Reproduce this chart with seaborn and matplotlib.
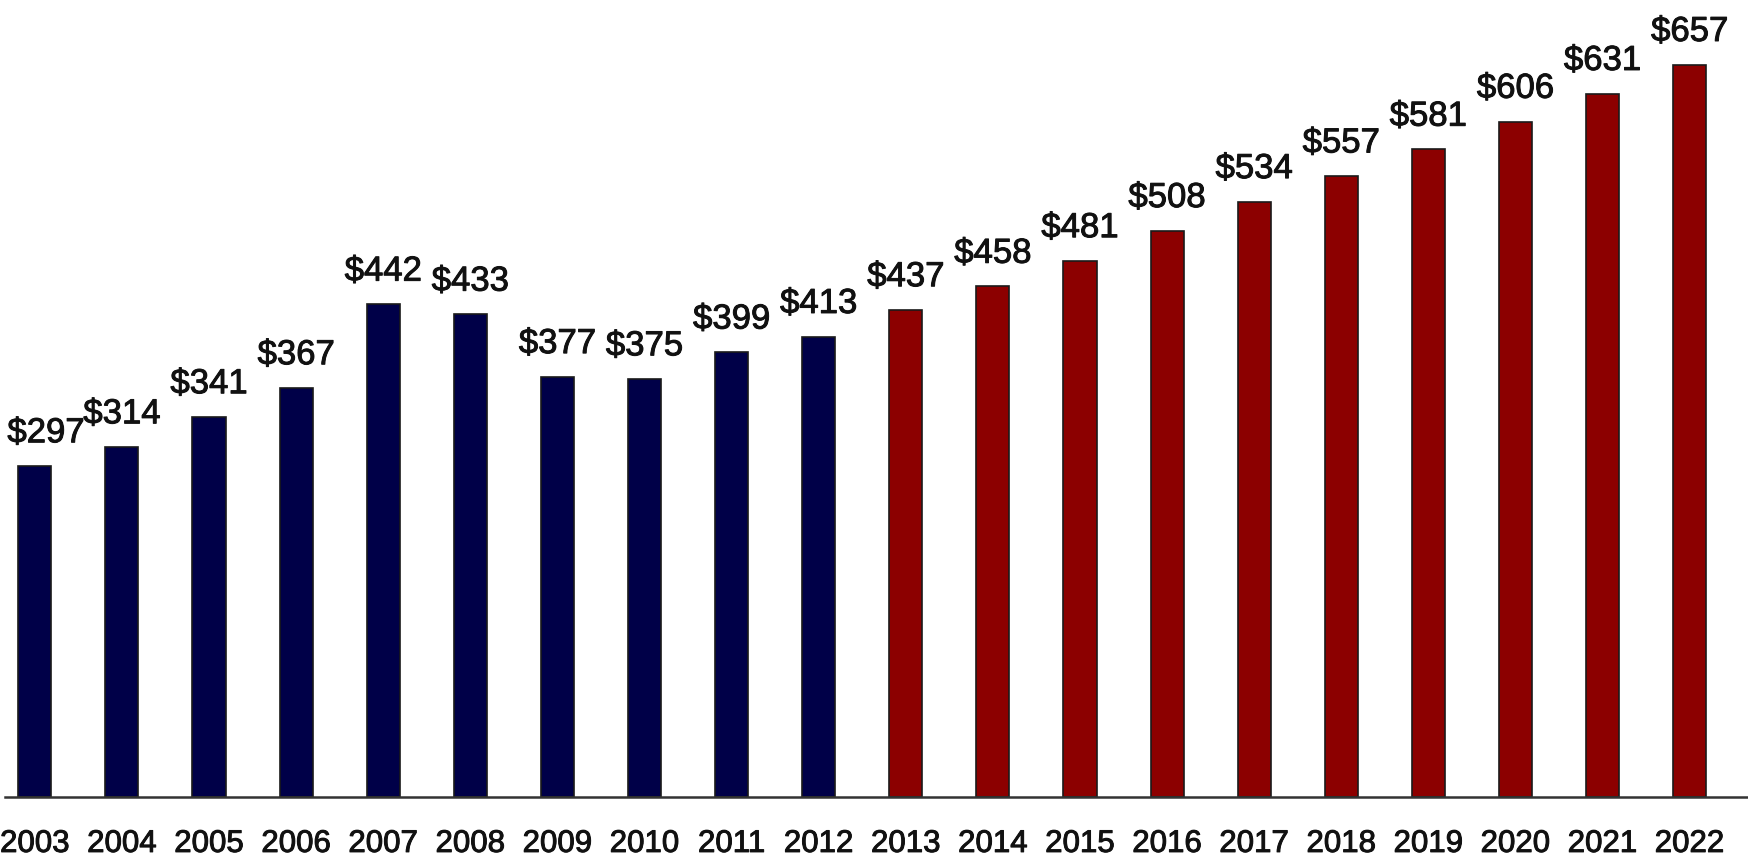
import matplotlib
matplotlib.use("Agg")
import matplotlib.pyplot as plt
import matplotlib.patheffects as pe
import seaborn as sns
import pandas as pd

years = [str(y) for y in range(2003, 2023)]
values = [297, 314, 341, 367, 442, 433, 377, 375, 399, 413,
          437, 458, 481, 508, 534, 557, 581, 606, 631, 657]
period = ["Actual"] * 10 + ["Projected"] * 10
palette = {"Actual": "#000048", "Projected": "#8c0000"}

df = pd.DataFrame({"year": years, "value": values, "period": period})

sns.set_theme(style="white")
plt.rcParams["font.family"] = ["Liberation Sans", "DejaVu Sans"]

fig = plt.figure(figsize=(17.48, 8.58), dpi=100)
ax = fig.add_axes([0.003, 61 / 858, 0.997, 797 / 858])

sns.barplot(data=df, x="year", y="value", hue="period", palette=palette,
            dodge=False, width=0.38, saturation=1, edgecolor="#1a1a1a",
            linewidth=1.2, legend=False, ax=ax)

ax.set_xlim(-0.34, 19.67)
ax.set_ylim(0, 715)

heavy = [pe.withStroke(linewidth=0.7, foreground="#111111")]

for i, v in enumerate(values):
    dx = 8 if i == 0 else 0
    ax.annotate(f"${v}", (i, v), xytext=(dx, 12), textcoords="offset points",
                ha="center", va="bottom", fontsize=25, color="#111111",
                path_effects=heavy)

ax.set_xlabel("")
ax.set_ylabel("")
ax.set_yticks([])
ax.tick_params(axis="x", length=0, pad=23, labelsize=22.5, labelcolor="#111111")
for lbl in ax.get_xticklabels():
    lbl.set_path_effects(heavy)
for s in ["top", "right", "left"]:
    ax.spines[s].set_visible(False)
ax.spines["bottom"].set_color("#333333")
ax.spines["bottom"].set_linewidth(1.8)

fig.savefig("out.png", dpi=100, facecolor="white")
